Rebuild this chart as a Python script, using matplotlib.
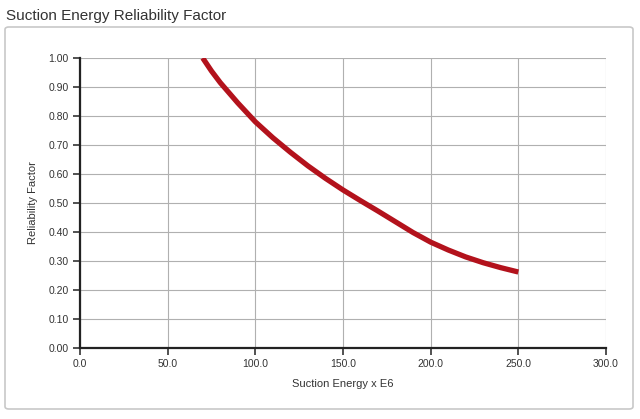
import matplotlib.pyplot as plt
from matplotlib.patches import FancyBboxPatch
import numpy as np

# values
suction_energy = [70, 75, 80, 90, 100, 110, 120, 130, 140, 150, 160,
                  170, 180, 190, 200, 210, 220, 230, 240, 250]
reliability = [1.00, 0.955, 0.915, 0.845, 0.78, 0.725, 0.675, 0.628, 0.585, 0.545, 0.508,
               0.472, 0.435, 0.398, 0.365, 0.338, 0.314, 0.294, 0.277, 0.262]

x_ticks = np.arange(0, 301, 50)
y_ticks = np.arange(0, 1.01, 0.1)

plt.rcParams['font.family'] = ['Liberation Sans Narrow', 'DejaVu Sans Condensed',
                               'Liberation Sans', 'DejaVu Sans']

fig = plt.figure(figsize=(6.4, 4.19), dpi=100)

# rounded frame around the plot
frame = FancyBboxPatch((5 / 640, 1 - 409 / 419), 628 / 640, 382 / 419,
                       boxstyle='round,pad=0,rounding_size=0.006',
                       transform=fig.transFigure, facecolor='white',
                       edgecolor='#c8c8c8', linewidth=1.2, zorder=-5)
fig.patches.append(frame)

fig.text(6 / 640, 1 - 16 / 419, 'Suction Energy Reliability Factor',
         fontsize=11, color='#333333', va='center', ha='left')

ax = fig.add_axes([80 / 640, 1 - 348 / 419, 526 / 640, 290 / 419])
ax.set_facecolor('none')
ax.set_zorder(2)

ax.plot(suction_energy, reliability, color='#b3121c', linewidth=3.8,
        solid_capstyle='butt', solid_joinstyle='round', zorder=3)

ax.set_xlim(0, 300)
ax.set_ylim(0, 1.0)
ax.set_xticks(x_ticks)
ax.set_yticks(y_ticks)
ax.set_xticklabels([f'{v:.1f}' for v in x_ticks])
ax.set_yticklabels([f'{v:.2f}' for v in y_ticks])
ax.tick_params(direction='out', length=5, width=1.2, labelsize=7.5,
               colors='#333333', pad=3)
ax.grid(True, color='#b0b0b0', linewidth=0.8)
ax.set_axisbelow(True)

for side in ['top', 'right']:
    ax.spines[side].set_visible(False)
for side in ['left', 'bottom']:
    ax.spines[side].set_linewidth(1.6)
    ax.spines[side].set_color('#222222')

ax.set_xlabel('Suction Energy x E6', fontsize=8, color='#333333', labelpad=7)
ax.set_ylabel('Reliability Factor', fontsize=8, color='#333333', labelpad=8)

plt.savefig('out.png', dpi=100)
